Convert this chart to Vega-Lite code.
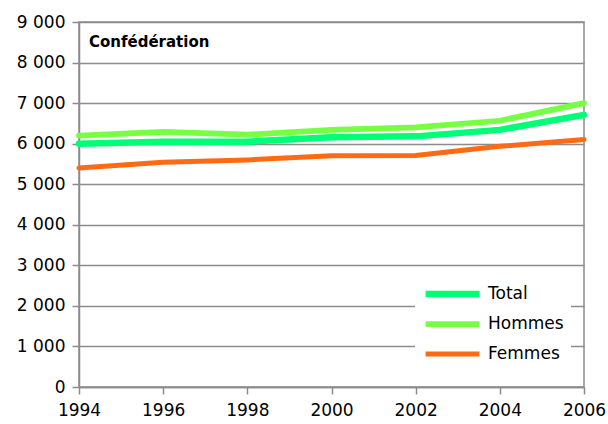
{
  "$schema": "https://vega.github.io/schema/vega-lite/v6.json",
  "width": 505,
  "height": 365,
  "autosize": {"type": "none"},
  "padding": {"left": 79, "top": 22, "right": 24, "bottom": 37},
  "background": "white",
  "config": {
    "font": "DejaVu Sans",
    "view": {"stroke": "#8c8c8c", "strokeWidth": 1.5},
    "axis": {
      "labelFont": "DejaVu Sans",
      "labelFontSize": 17,
      "labelColor": "#000000",
      "domainColor": "#8c8c8c",
      "domainWidth": 1.5,
      "tickColor": "#8c8c8c",
      "tickWidth": 1.5,
      "tickSize": 7,
      "gridColor": "#8c8c8c",
      "gridWidth": 1.5,
      "title": null
    }
  },
  "data": {
    "values": [
      {"year": 1994, "series": "Total", "value": 6000},
      {"year": 1996, "series": "Total", "value": 6050},
      {"year": 1998, "series": "Total", "value": 6050},
      {"year": 2000, "series": "Total", "value": 6160},
      {"year": 2002, "series": "Total", "value": 6180},
      {"year": 2004, "series": "Total", "value": 6340},
      {"year": 2006, "series": "Total", "value": 6710},
      {"year": 1994, "series": "Hommes", "value": 6200},
      {"year": 1996, "series": "Hommes", "value": 6290},
      {"year": 1998, "series": "Hommes", "value": 6220},
      {"year": 2000, "series": "Hommes", "value": 6340},
      {"year": 2002, "series": "Hommes", "value": 6400},
      {"year": 2004, "series": "Hommes", "value": 6565},
      {"year": 2006, "series": "Hommes", "value": 7000},
      {"year": 1994, "series": "Femmes", "value": 5400},
      {"year": 1996, "series": "Femmes", "value": 5540},
      {"year": 1998, "series": "Femmes", "value": 5600},
      {"year": 2000, "series": "Femmes", "value": 5700},
      {"year": 2002, "series": "Femmes", "value": 5710},
      {"year": 2004, "series": "Femmes", "value": 5935},
      {"year": 2006, "series": "Femmes", "value": 6100}
    ]
  },
  "layer": [
    {
      "mark": {"type": "line", "strokeCap": "round", "strokeJoin": "round"},
      "encoding": {
        "x": {
          "field": "year",
          "type": "quantitative",
          "scale": {"domain": [1994, 2006], "nice": false, "zero": false},
          "axis": {"values": [1994, 1996, 1998, 2000, 2002, 2004, 2006], "format": "d", "grid": false, "labelPadding": 8, "labelFlush": false, "labelOverlap": false, "labelBound": false}
        },
        "y": {
          "field": "value",
          "type": "quantitative",
          "scale": {"domain": [0, 9000], "nice": false},
          "axis": {"values": [0, 1000, 2000, 3000, 4000, 5000, 6000, 7000, 8000, 9000], "labelExpr": "replace(format(datum.value, ',d'), ',', ' ')", "grid": true, "labelPadding": 7, "labelFlush": false}
        },
        "color": {
          "field": "series",
          "type": "nominal",
          "scale": {"domain": ["Total", "Hommes", "Femmes"], "range": ["#00ff77", "#77ff44", "#ff6a13"]},
          "legend": {
            "title": null,
            "orient": "none",
            "legendX": 336,
            "legendY": 255,
            "fillColor": "white",
            "padding": 7,
            "symbolType": "stroke",
            "symbolSize": 2900,
            "clipHeight": 20,
            "labelFontSize": 17,
            "labelFont": "DejaVu Sans",
            "labelColor": "#000000",
            "rowPadding": 10,
            "labelOffset": 5
          }
        },
        "strokeWidth": {
          "field": "series",
          "type": "nominal",
          "scale": {"domain": ["Total", "Hommes", "Femmes"], "range": [6.5, 5, 5]}
        },
        "order": {"field": "year", "type": "quantitative"}
      }
    },
    {
      "data": {"values": [{"label": "Confédération"}]},
      "mark": {"type": "text", "fontWeight": "bold", "fontSize": 15, "font": "DejaVu Sans", "align": "left", "baseline": "middle", "dx": 10, "dy": 20, "color": "#000000"},
      "encoding": {
        "text": {"field": "label"},
        "x": {"datum": 1994, "type": "quantitative"},
        "y": {"datum": 9000, "type": "quantitative"}
      }
    }
  ]
}
